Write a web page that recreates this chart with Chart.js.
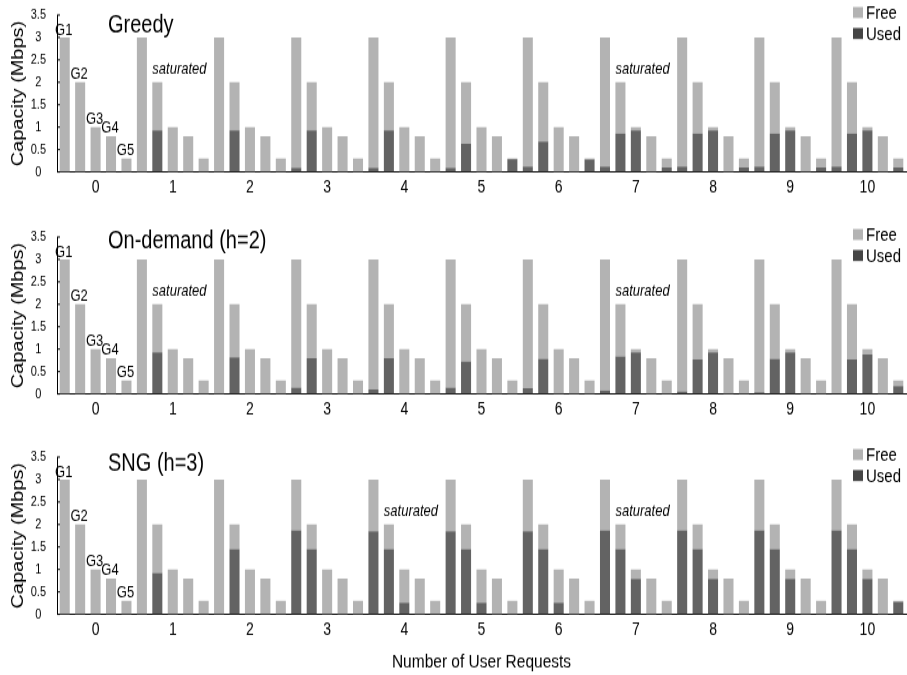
<!DOCTYPE html>
<html>
<head>
<meta charset="utf-8">
<script src="https://cdn.jsdelivr.net/npm/chart.js@4.4.1/dist/chart.umd.min.js"></script>
<style>
  body { margin: 0; background: #fff; }
  .wrap { position: relative; width: 907px; height: 675px; overflow: hidden; }
  canvas { position: absolute; left: 0; }
  #greedyChart { top: 0; }
  #onDemandChart { top: 222px; }
  #sngChart { top: 442px; }
</style>
</head>
<body>
<div class="wrap">
  <!-- drawn at 4/5 height, then stretched, like the tall narrow lettering of the original figure -->
  <canvas id="greedyChart" width="907" height="168" style="width:907px;height:210px"></canvas>
  <canvas id="onDemandChart" width="907" height="168" style="width:907px;height:210px"></canvas>
  <canvas id="sngChart" width="907" height="186" style="width:907px;height:232.5px"></canvas>
</div>
<script>
const requests = ["0", "1", "2", "3", "4", "5", "6", "7", "8", "9", "10"];
const gateways = ["G1", "G2", "G3", "G4", "G5"];
const capacity = [3, 2, 1, 0.8, 0.3];
const yTicks = [0, 0.5, 1, 1.5, 2, 2.5, 3, 3.5];

// used bandwidth, one row per gateway (G1..G5), one value per request count
const greedyUsed = [
    [0, 0, 0, 0.09, 0.09, 0.09, 0.12, 0.12, 0.12, 0.12, 0.12],
    [0, 0.93, 0.93, 0.93, 0.93, 0.63, 0.68, 0.86, 0.86, 0.86, 0.86],
    [0, 0, 0, 0, 0, 0, 0, 0.93, 0.93, 0.93, 0.93],
    [0, 0, 0, 0, 0, 0, 0, 0, 0, 0, 0],
    [0, 0, 0, 0, 0, 0.29, 0.28, 0.1, 0.1, 0.1, 0.1]
];
const onDemandUsed = [
    [0, 0, 0, 0.14, 0.1, 0.14, 0.13, 0.08, 0.06, 0.04, 0.02],
    [0, 0.93, 0.82, 0.8, 0.8, 0.73, 0.78, 0.84, 0.77, 0.78, 0.77],
    [0, 0, 0, 0, 0, 0, 0, 0.93, 0.93, 0.93, 0.88],
    [0, 0, 0, 0, 0, 0, 0, 0, 0, 0, 0],
    [0, 0, 0, 0, 0, 0, 0, 0, 0, 0, 0.18]
];
const sngUsed = [
    [0, 0, 0, 1.87, 1.85, 1.85, 1.85, 1.87, 1.87, 1.87, 1.87],
    [0, 0.92, 1.45, 1.45, 1.45, 1.45, 1.45, 1.45, 1.45, 1.45, 1.45],
    [0, 0, 0, 0, 0.26, 0.26, 0.26, 0.79, 0.79, 0.79, 0.79],
    [0, 0, 0, 0, 0, 0, 0, 0, 0, 0, 0],
    [0, 0, 0, 0, 0, 0, 0, 0, 0, 0, 0.28]
];

// request counts marked "saturated"
const greedySaturated = [1, 7];
const onDemandSaturated = [1, 7];
const sngSaturated = [4, 7];

const FONT = '"Liberation Sans", Arial, sans-serif';
const freeColor = "#b3b3b3";
const usedColor = "#636363";

Chart.defaults.font.family = FONT;
Chart.defaults.color = "#000";

// panel name, G labels, "saturated" notes, inner tick marks and the legend
const panelText = {
    id: "panelText",
    afterDatasetsDraw(chart, args, opts) {
        const ctx = chart.ctx;
        const area = chart.chartArea;
        const y = chart.scales.y;
        ctx.save();

        ctx.strokeStyle = "#000";
        ctx.lineWidth = 1;
        ctx.beginPath();
        yTicks.forEach(v => {
            const py = y.getPixelForValue(v);
            ctx.moveTo(area.left, py);
            ctx.lineTo(area.left + 3, py);
        });
        ctx.stroke();

        ctx.fillStyle = "#000";
        ctx.textBaseline = "alphabetic";

        ctx.font = "20px " + FONT;
        ctx.textAlign = "left";
        ctx.fillText(opts.title, 108, area.top + opts.titleDy);

        ctx.font = "13px " + FONT;
        ctx.textAlign = "center";
        gateways.forEach((g, i) => {
            const bar = chart.getDatasetMeta(i * 2 + 1).data[0];
            ctx.fillText(g, bar.x - 1, bar.y - 2.4);
        });

        ctx.font = "italic 13px " + FONT;
        ctx.textAlign = "left";
        opts.saturated.forEach(k => {
            const bar = chart.getDatasetMeta(3).data[k];
            ctx.fillText("saturated", bar.x - bar.width / 2, y.getPixelForValue(2.2));
        });

        ctx.fillStyle = freeColor;
        ctx.fillRect(853, 5.6, 10, 8.8);
        ctx.fillStyle = "#454545";
        ctx.fillRect(853, 22.4, 10, 8.8);
        ctx.fillStyle = "#000";
        ctx.font = "15px " + FONT;
        ctx.fillText("Free", 866, 15.2);
        ctx.fillText("Used", 866, 32);
        ctx.restore();
    }
};

function makePanel(id, title, titleDy, used, saturated, xHeight, showXTitle) {
    const datasets = [];
    gateways.forEach((g, i) => {
        datasets.push({
            label: "Used",
            stack: g,
            data: used[i],
            backgroundColor: usedColor,
            borderWidth: 0
        });
        datasets.push({
            label: "Free",
            stack: g,
            data: used[i].map(u => +(capacity[i] - u).toFixed(2)),
            backgroundColor: freeColor,
            borderWidth: 0
        });
    });

    new Chart(document.getElementById(id), {
        type: "bar",
        data: { labels: requests, datasets },
        options: {
            responsive: false,
            animation: false,
            categoryPercentage: 1,
            barPercentage: 0.65,
            layout: { padding: { top: 12, right: 1, left: 0, bottom: 0 } },
            plugins: {
                legend: { display: false },
                tooltip: { enabled: false },
                panelText: { title, titleDy, saturated }
            },
            scales: {
                x: {
                    stacked: true,
                    grid: { display: false, drawTicks: false },
                    border: { color: "#000", width: 1 },
                    ticks: { font: { size: 14 }, padding: 4.4, maxRotation: 0 },
                    title: {
                        display: showXTitle,
                        text: "Number of User Requests",
                        font: { size: 15.5 },
                        padding: { top: 0, bottom: 1 }
                    },
                    afterFit: axis => { axis.height = xHeight; }
                },
                y: {
                    stacked: true,
                    min: 0,
                    max: 3.5,
                    grid: { display: false, drawTicks: true, tickLength: 6 },
                    border: { color: "#000", width: 1 },
                    ticks: {
                        font: { size: 11 },
                        padding: 5,
                        crossAlign: "center",
                        callback: v => String(v)
                    },
                    afterBuildTicks: axis => { axis.ticks = yTicks.map(v => ({ value: v })); },
                    title: {
                        display: true,
                        text: "Capacity (Mbps)",
                        font: { size: 16 },
                        padding: { top: 9, bottom: 0 }
                    },
                    afterFit: axis => { axis.width = 57; }
                }
            }
        },
        plugins: [panelText]
    });
}

makePanel("greedyChart", "Greedy", 13.8, greedyUsed, greedySaturated, 30.4, false);
makePanel("onDemandChart", "On-demand (h=2)", 8.6, onDemandUsed, onDemandSaturated, 30.4, false);
makePanel("sngChart", "SNG (h=3)", 11, sngUsed, sngSaturated, 48.4, true);
</script>
</body>
</html>
